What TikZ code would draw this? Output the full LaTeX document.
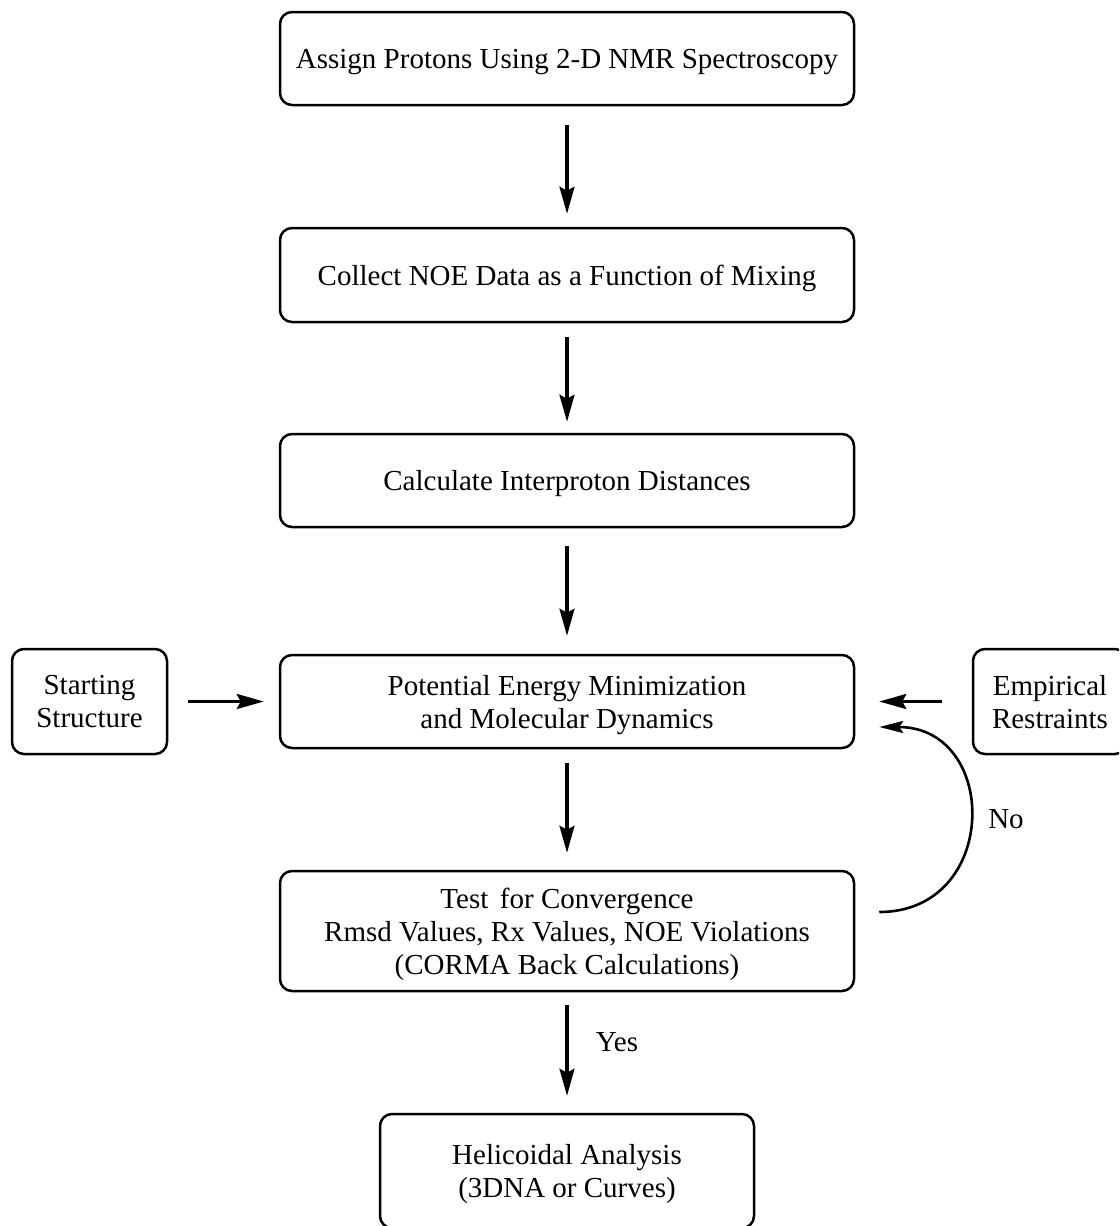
\documentclass[tikz,border=0pt]{standalone}
\usepackage{fontspec}
\setmainfont{Liberation Serif}
\usetikzlibrary{arrows.meta,calc}
\begin{document}
\begin{tikzpicture}[x=1pt,y=-1pt,
  box/.style={draw,line width=2.5pt,rounded corners=12pt,align=center,
    inner sep=0pt,text depth=0pt,font=\fontsize{29}{33}\selectfont},
  arr/.style={line width=3.2pt,-{Stealth[length=27pt,width=15pt,inset=4pt]}},
  lbl/.style={font=\fontsize{29}{33}\selectfont}]
\useasboundingbox (0,0) rectangle (1119,1226);
\clip (0,0) rectangle (1119,1226);
\node[box,minimum width=574pt,minimum height=93pt] (assign) at (567,58.5) {Assign Protons Using 2-D NMR Spectroscopy};
\node[box,minimum width=574pt,minimum height=94pt] (collect) at (567,275) {Collect NOE Data as a Function of Mixing};
\node[box,minimum width=574pt,minimum height=93pt] (calc) at (567,480.5) {Calculate Interproton Distances};
\node[box,minimum width=574pt,minimum height=93pt] (pot) at (567,701.5) {Potential Energy Minimization\\and Molecular Dynamics};
\node[box,minimum width=574pt,minimum height=120pt] (test) at (567,931) {Test\hspace{0.4em}for Convergence\\Rmsd Values, Rx Values, NOE Violations\\(CORMA Back Calculations)};
\node[box,minimum width=374pt,minimum height=114pt] (heli) at (567,1171) {Helicoidal Analysis\\(3DNA or Curves)};
\node[box,minimum width=155pt,minimum height=105pt] (start) at (89.5,701.5) {Starting\\Structure};
\node[box,minimum width=154pt,minimum height=105pt] (emp) at (1050,701.5) {Empirical\\Restraints};
\draw[arr,shorten <=19pt,shorten >=13pt] (assign) -- (collect);
\draw[arr,shorten <=14pt,shorten >=11pt] (collect) -- (calc);
\draw[arr,shorten <=18pt,shorten >=18pt] (calc) -- (pot);
\draw[arr,shorten <=14pt,shorten >=17pt] (pot) -- (test);
\draw[arr,shorten <=13pt,shorten >=17pt] (test) -- (heli);
\draw[arr,shorten <=20pt,shorten >=15pt] (start.east) -- (start.east -| pot.west);
\draw[arr,shorten <=30pt,shorten >=24pt] (emp.west) -- (emp.west -| pot.east);
\coordinate (c1) at ($(test.east)+(24,-19)$);
\coordinate (c2) at ($(pot.east)+(24,25.5)$);
\draw[line width=2.6pt,-{Stealth[length=24pt,width=12pt,inset=4pt]}] (c1) .. controls (1000,912) and (1000,727) .. (c2);
\node[lbl] (no) at (1006,819) {No};
\node[lbl] (yes) at (617,1042) {Yes};
\end{tikzpicture}
\end{document}
